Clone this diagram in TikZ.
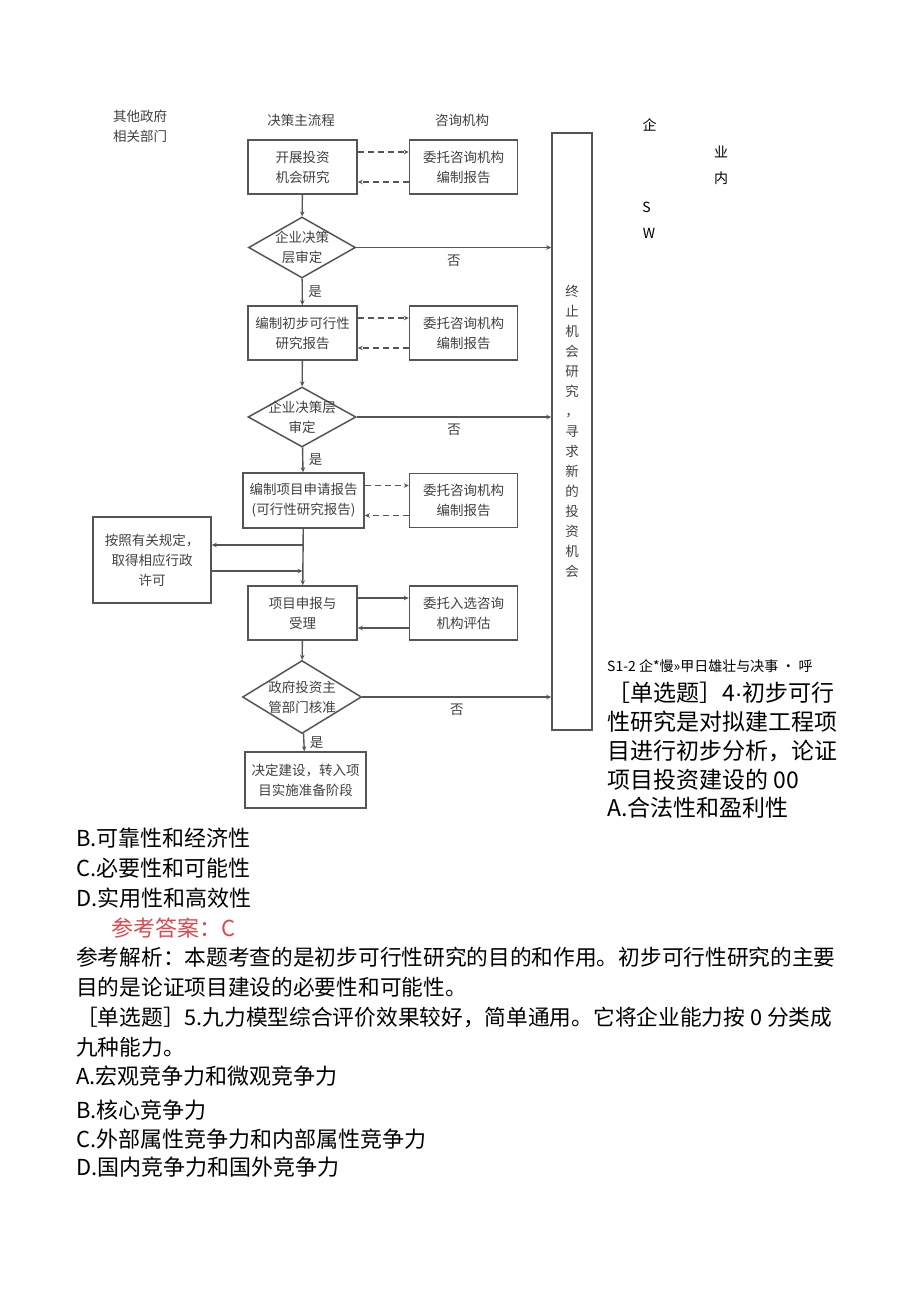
\documentclass[tikz,border=0pt]{standalone}
\usepackage{fontspec}
\setmainfont{Noto Sans CJK SC}
\newfontfamily\latin{Liberation Sans}
\usepackage{tikz}
\usetikzlibrary{shapes.geometric,arrows.meta}
\usepackage{xcolor}
\definecolor{trait}{HTML}{555555}
\definecolor{gristexte}{HTML}{404040}
\definecolor{rouge}{HTML}{E0474C}

\begin{document}
\begin{tikzpicture}[x = 1pt, y = -1pt,
    boite/.style = {draw = trait, line width = 1.5pt, minimum width = 109pt,
        minimum height = 54pt, inner sep = 1pt, align = center, text = gristexte,
        font = \fontsize{13.5}{20}\selectfont},
    losange/.style = {draw = trait, line width = 1.5pt, diamond, inner sep = 0pt},
    texte/.style = {align = center, text = gristexte, font = \fontsize{13.5}{20}\selectfont},
    fleche/.style = {-{Stealth[length = 5pt, width = 4.5pt]}, draw = trait, line width = 1.4pt},
    tirets/.style = {fleche, dash pattern = on 6pt off 4pt},
    ligne/.style = {anchor = west, inner sep = 0pt}]
\useasboundingbox (0, 0) rectangle (920, 1301);

% En-têtes des colonnes
\node[texte, align = left] (gouv) at (140, 126) {其他政府\\相关部门};
\node[texte] (tete) at (301, 120) {决策主流程};
\node[texte] (conseil) at (462, 120) {咨询机构};

% Le flux principal : boîtes et losanges
\foreach \x/\y/\nom/\texte in {302.5/167/b1/{开展投资\\机会研究},
    302.5/333/b2/{编制初步可行性\\研究报告},
    302.5/613/b4/{项目申报与\\受理}}{
    \node[boite] (\nom) at (\x, \y) {\texte};
}
\node[boite, minimum width = 121pt, minimum height = 55pt] (b3) at (303.5, 500.5)
    {编制项目申请报告\\(可行性研究报告)};
\node[boite, minimum width = 121pt, minimum height = 56pt] (b5) at (305.5, 780)
    {决定建设，转入项\\目实施准备阶段};

\foreach \y/\l/\h/\nom/\texte in {247.5/107/61/d1/{企业决策\\层审定},
    417/108/60/d2/{企业决策层\\审定},
    697/119/73/d3/{政府投资主\\管部门核准}}{
    \node[losange, minimum width = \l pt, minimum height = \h pt] (\nom) at (302, \y) {};
    \node[texte] (\nom t) at (\nom) {\texte};
}

% Les boîtes des cabinets de conseil
\foreach \y/\nom/\texte in {167/c1/{委托咨询机构\\编制报告}, 333/c2/{委托咨询机构\\编制报告},
    500.5/c3/{委托咨询机构\\编制报告}, 613/c4/{委托入选咨询\\机构评估}}{
    \node[boite, minimum width = 108pt] (\nom) at (463.5, \y) {\texte};
}

% Boîte de gauche et boîte d'arrêt
\node[boite, minimum width = 118pt, minimum height = 86pt] (permis) at (152, 560)
    {按照有关规定，\\取得相应行政\\许可};
\node[boite, minimum width = 40pt, minimum height = 597pt,
    font = \fontsize{13.5}{20}\selectfont] (arret) at (572, 431.5)
    {终\\止\\机\\会\\研\\究\\，\\寻\\求\\新\\的\\投\\资\\机\\会};

% Flèches verticales
\foreach \source/\dest in {b1/d1, b2/d2, b3/b4, b4/d3}{
    \draw[fleche] (\source) -- (\dest);
}
\foreach \source/\dest in {d1/b2, d2/b3, d3/b5}{
    \draw[fleche] (\source) -- node[right, texte, xshift = 2pt] {是} (\dest);
}

% Refus : vers la boîte d'arrêt
\foreach \source in {d1, d2, d3}{
    \draw[fleche] (\source.east) -- node[below = 3pt, texte] {否} (\source.east -| arret.west);
}

% Aller-retour avec les cabinets (le dernier en trait plein)
\foreach \source/\dest/\style in {b1/c1/tirets, b2/c2/tirets, b3/c3/tirets, b4/c4/fleche}{
    \draw[\style] ([yshift = 15pt]\dest.west -| \source.east) -- ([yshift = 15pt]\dest.west);
    \draw[\style] ([yshift = -15pt]\dest.west) -- ([yshift = -15pt]\dest.west -| \source.east);
}

% Autorisations administratives
\coordinate (j1) at (302.5, 545);
\coordinate (j2) at (302.5, 571);
\draw[fleche] (j1) -- (j1 -| permis.east);
\draw[fleche] (j2 -| permis.east) -- (j2);

% Texte à droite du schéma
\foreach \x/\y/\nom/\texte in {649.5/125/r1/企, 721/152/r2/业, 721/178/r3/内,
    646.5/207/r4/S, 649/233/r5/W}{
    \node[font = \fontsize{14}{14}\selectfont] (\nom) at (\x, \y) {\texte};
}
\node[ligne, font = \fontsize{14}{14}\selectfont] (legende) at (607, 666)
    {S1-2 企*慢»甲日雄壮与决事 · 呼};
\foreach \y/\texte in {693/{［单选题］4{\latin·}初步可行}, 722/性研究是对拟建工程项,
    751/{目进行初步分析，论证}, 780/项目投资建设的 00, 808/A.合法性和盈利性}{
    \node[ligne, font = \fontsize{23}{23}\selectfont] (q\y) at (607, \y) {\texte};
}

% Texte sous le schéma
\foreach \y/\texte in {838/B.可靠性和经济性, 868/C.必要性和可能性, 898/D.实用性和高效性,
    1076/A.宏观竞争力和微观竞争力, 1110/B.核心竞争力,
    1139/C.外部属性竞争力和内部属性竞争力, 1167/D.国内竞争力和国外竞争力}{
    \node[ligne, font = \fontsize{22}{22}\selectfont] (o\y) at (76, \y) {\texte};
}
\node[ligne, text = rouge, font = \fontsize{22}{22}\selectfont] (reponse) at (111, 928)
    {参考答案：C};
\foreach \y/\texte in {957/参考解析：本题考查的是初步可行性研究的目的和作用。初步可行性研究的主要,
    987/目的是论证项目建设的必要性和可能性。,
    1017/［单选题］5.九力模型综合评价效果较好，简单通用。它将企业能力按 0 分类成,
    1047/九种能力。}{
    \node[ligne, font = \fontsize{21.7}{21.7}\selectfont] (p\y) at (76, \y) {\texte};
}
\end{tikzpicture}
\end{document}
